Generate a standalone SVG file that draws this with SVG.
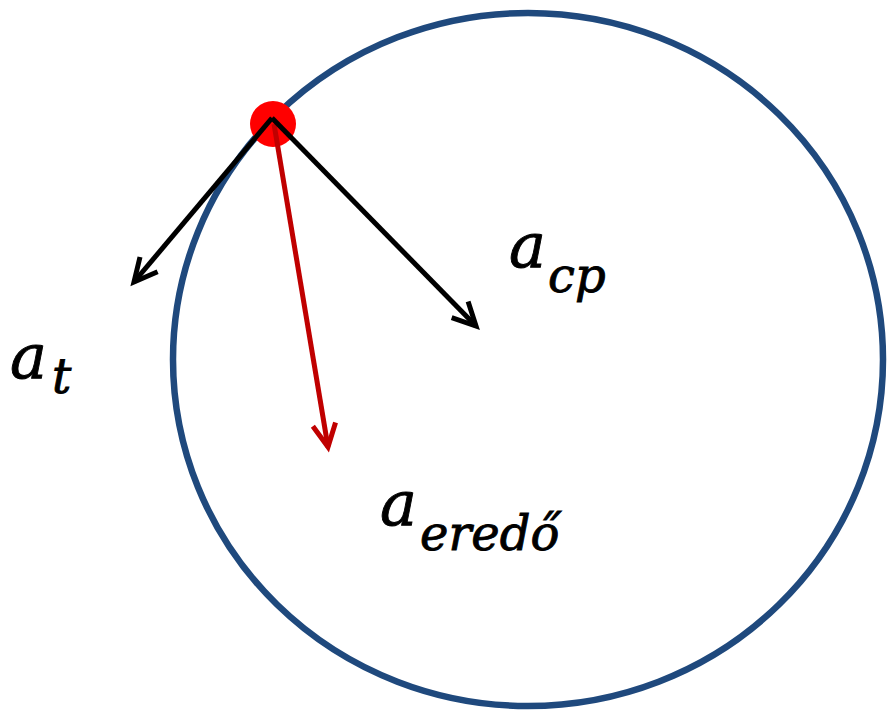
<svg xmlns="http://www.w3.org/2000/svg" width="887" height="711" viewBox="0 0 887 711">
  <style>
    .lbl { font-family: "DejaVu Serif", "Liberation Serif", serif; font-style: italic; fill: #000; stroke: #000; stroke-width: 0.9; }
    .main { font-size: 62px; }
    .sub { font-size: 48px; }
    .blk { stroke: #000; stroke-width: 5; fill: none; }
    .red { stroke: #C00000; stroke-width: 5; fill: none; }
  </style>
  <defs>
    <marker id="ahBlack" markerUnits="userSpaceOnUse" markerWidth="40" markerHeight="40" refX="0" refY="0" viewBox="-30 -20 40 40" orient="auto" overflow="visible">
      <path d="M -23 -11.5 L 0 0 L -23 11.5" fill="none" stroke="#000" stroke-width="5" stroke-linejoin="miter"/>
    </marker>
    <marker id="ahRed" markerUnits="userSpaceOnUse" markerWidth="40" markerHeight="40" refX="0" refY="0" viewBox="-30 -20 40 40" orient="auto" overflow="visible">
      <path d="M -23 -11.5 L 0 0 L -23 11.5" fill="none" stroke="#C00000" stroke-width="5" stroke-linejoin="miter"/>
    </marker>
  </defs>
  <rect width="887" height="711" fill="#fff"/>
  <g id="orbit">
    <ellipse cx="528" cy="359.5" rx="355" ry="346.5" fill="none" stroke="#1F497D" stroke-width="6.5"/>
  </g>
  <g id="point">
    <circle cx="273" cy="124" r="23" fill="#FF0000"/>
  </g>
  <g id="connectors">
    <line class="red" x1="274" y1="124" x2="328" y2="447" marker-end="url(#ahRed)"/>
    <line class="blk" x1="272" y1="118" x2="134" y2="282" marker-end="url(#ahBlack)"/>
    <line class="blk" x1="272" y1="118" x2="476" y2="326" marker-end="url(#ahBlack)"/>
  </g>
  <g id="label-at">
    <text class="lbl"><tspan class="main" x="10" y="378">a</tspan><tspan class="sub" x="52" y="393">t</tspan></text>
  </g>
  <g id="label-acp">
    <text class="lbl"><tspan class="main" x="509" y="267">a</tspan><tspan class="sub" x="548" y="292">cp</tspan></text>
  </g>
  <g id="label-aeredo">
    <text class="lbl"><tspan class="main" x="380" y="525">a</tspan><tspan class="sub" x="420" y="550">eredő</tspan></text>
  </g>
</svg>
